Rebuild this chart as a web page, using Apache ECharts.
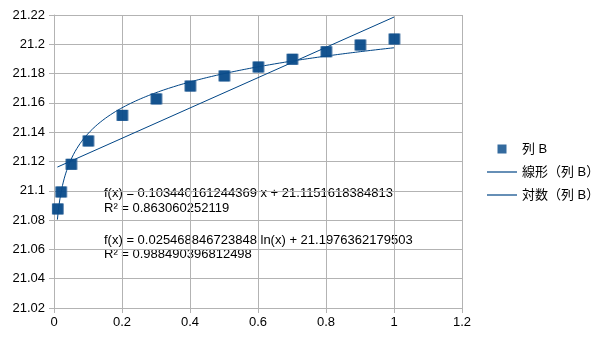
<!DOCTYPE html>
<html>
<head>
<meta charset="utf-8">
<script src="https://cdn.jsdelivr.net/npm/echarts@6/dist/echarts.min.js"></script>
<style>
  html, body { margin: 0; padding: 0; background: #fff; }
  #chart { width: 605px; height: 340px; }
</style>
</head>
<body>
<div id="chart"></div>
<script>
// Measured values of column B against X
const xValues = [0.01, 0.02, 0.05, 0.1, 0.2, 0.3, 0.4, 0.5, 0.6, 0.7, 0.8, 0.9, 1.0];
const yValues = [21.0876, 21.0992, 21.1181, 21.1340, 21.1515, 21.1627, 21.1715, 21.1784, 21.1845, 21.1898, 21.1949, 21.1995, 21.2036];

// Regression coefficients shown in the equation labels
const linSlope = 0.103440161244369;
const linIntercept = 21.1151618384813;
const linR2 = 0.863060252119;
const logCoef = 0.025468846723848;
const logIntercept = 21.1976362179503;
const logR2 = 0.988490396812498;

// Axis ranges
const xTicks = { min: 0, max: 1.2, interval: 0.2 };
const yTicks = { min: 21.02, max: 21.22, interval: 0.02 };

const seriesName = '列 B';
const linName = '線形（列 B）';
const logName = '対数（列 B）';

const COLOR = '#004586';
const GRID = '#b3b3b3';
const FONT = '"Liberation Sans", "Noto Sans CJK JP", Arial, sans-serif';

const xStart = xValues[0];
const xEnd = xValues[xValues.length - 1];

// Linear trend line: straight, two endpoints are enough
const linPoints = [xStart, xEnd].map(x => [x, linSlope * x + linIntercept]);

// Logarithmic trend curve, sampled densely across the data range
const logPoints = [];
const steps = 400;
for (let i = 0; i <= steps; i++) {
  const x = xStart + (xEnd - xStart) * i / steps;
  logPoints.push([x, logCoef * Math.log(x) + logIntercept]);
}

const chart = echarts.init(document.getElementById('chart'), null, { renderer: 'canvas' });

const axisCommon = {
  axisLine: { show: true, lineStyle: { color: GRID, width: 1 } },
  axisTick: { show: true, length: 5, lineStyle: { color: GRID } },
  splitLine: { show: true, lineStyle: { color: GRID, width: 1 } },
  axisLabel: { color: '#000', fontFamily: FONT, fontSize: 13 }
};

const eqStyle = { fill: '#000', font: '13px ' + FONT };

// Legend icons: a small square for the points, a thin stroke for trend lines
const squareIcon = 'path://M0,0H10V10H0Z';
const lineIcon = 'path://M0,0H30V1.2H0Z';

chart.setOption({
  animation: false,
  backgroundColor: '#fff',
  grid: { left: 54, right: 143, top: 15, bottom: 32, containLabel: false },
  xAxis: Object.assign({
    type: 'value',
    min: xTicks.min, max: xTicks.max, interval: xTicks.interval
  }, axisCommon, { axisLabel: Object.assign({}, axisCommon.axisLabel, { margin: 8 }) }),
  yAxis: Object.assign({
    type: 'value',
    min: yTicks.min, max: yTicks.max, interval: yTicks.interval
  }, axisCommon, { axisLabel: Object.assign({}, axisCommon.axisLabel, { margin: 9 }) }),
  legend: {
    orient: 'vertical',
    left: 482, top: 137,
    itemWidth: 30, itemHeight: 9,
    itemGap: 9,
    symbolKeepAspect: true,
    textStyle: { color: '#000', fontFamily: FONT, fontSize: 13, lineHeight: 14 },
    data: [
      { name: seriesName, icon: squareIcon },
      { name: linName, icon: lineIcon },
      { name: logName, icon: lineIcon }
    ]
  },
  series: [
    {
      name: linName,
      type: 'line',
      data: linPoints,
      symbol: 'none',
      lineStyle: { color: COLOR, width: 1 },
      itemStyle: { color: COLOR },
      z: 2
    },
    {
      name: logName,
      type: 'line',
      data: logPoints,
      symbol: 'none',
      lineStyle: { color: COLOR, width: 1 },
      itemStyle: { color: COLOR },
      z: 2
    },
    {
      name: seriesName,
      type: 'scatter',
      data: xValues.map((x, i) => [x, yValues[i]]),
      symbol: 'rect',
      symbolSize: 11,
      itemStyle: {
        color: COLOR,
        borderWidth: 0,
        shadowColor: '#3d6d9f',
        shadowBlur: 0,
        shadowOffsetX: 1,
        shadowOffsetY: 0
      },
      z: 3
    }
  ],
  graphic: [
    { type: 'text', left: 104, top: 187, style: Object.assign({ text: 'f(x) = ' + linSlope + ' x + ' + linIntercept }, eqStyle) },
    { type: 'text', left: 104, top: 202, style: Object.assign({ text: 'R² = ' + linR2 }, eqStyle) },
    { type: 'text', left: 104, top: 234, style: Object.assign({ text: 'f(x) = ' + logCoef + ' ln(x) + ' + logIntercept }, eqStyle) },
    { type: 'text', left: 104, top: 248, style: Object.assign({ text: 'R² = ' + logR2 }, eqStyle) }
  ]
});
</script>
</body>
</html>
